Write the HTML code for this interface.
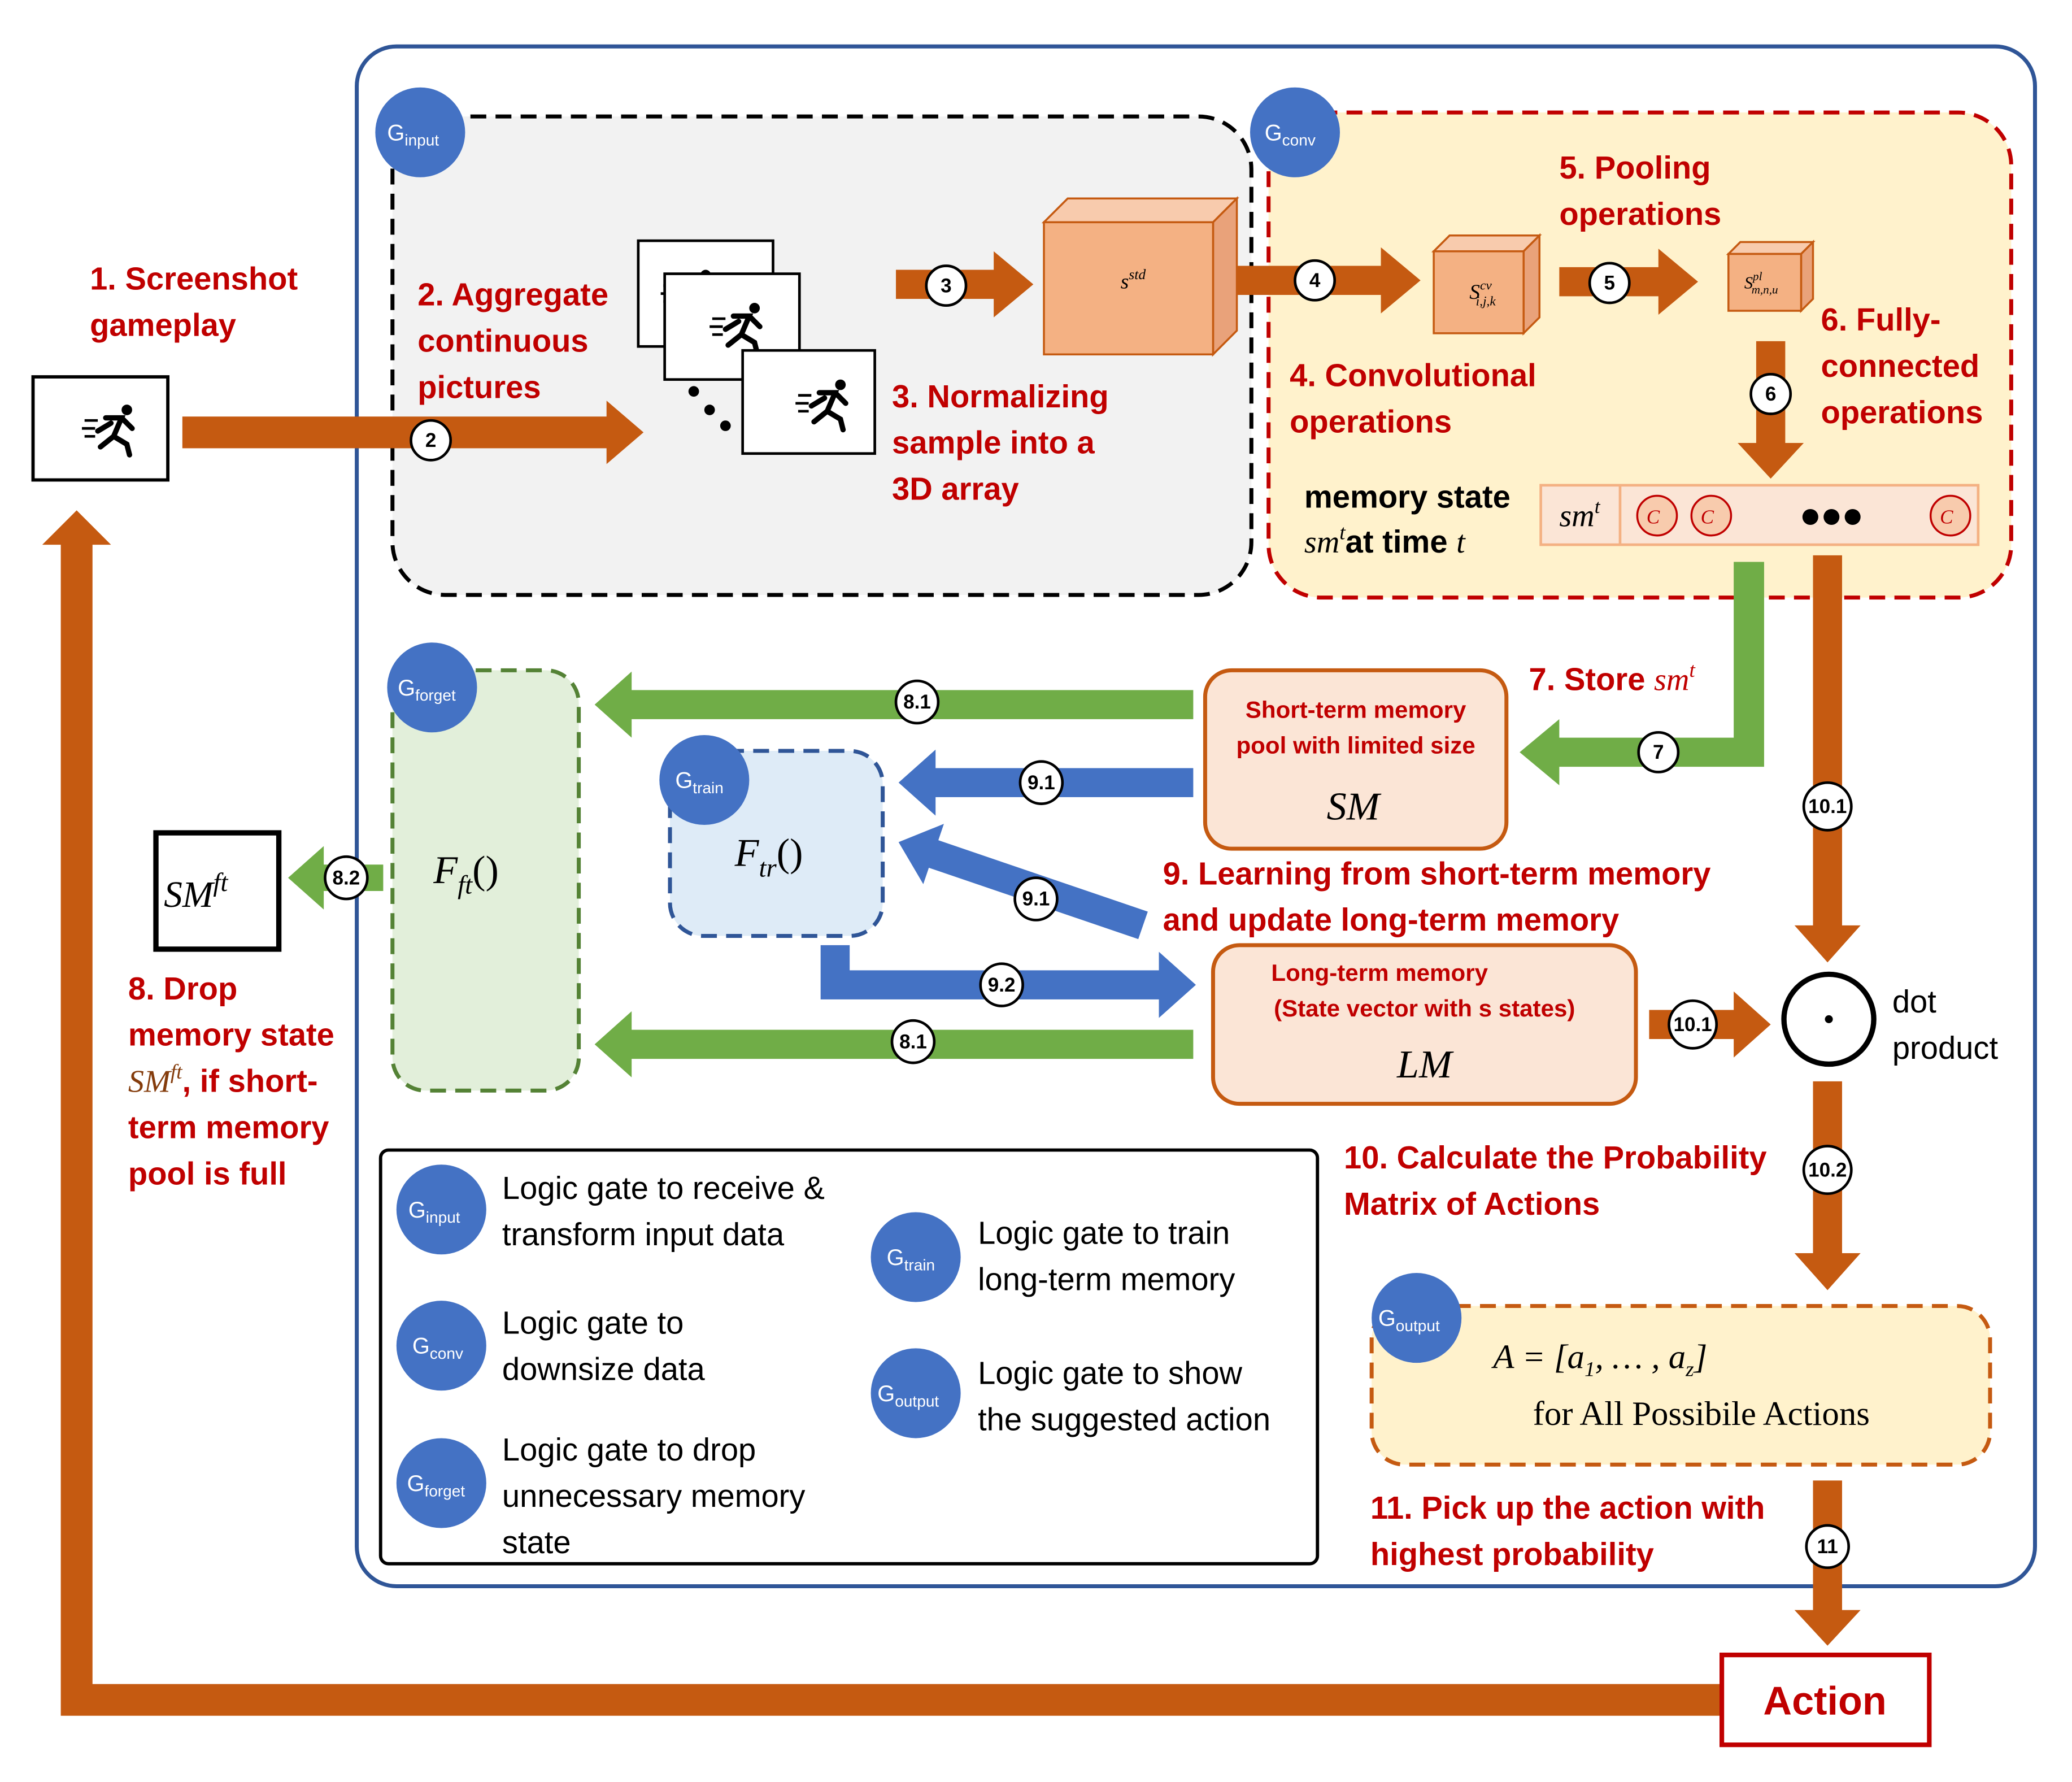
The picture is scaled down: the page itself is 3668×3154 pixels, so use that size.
<!DOCTYPE html>
<html><head><meta charset="utf-8"><style>html,body{margin:0;padding:0;background:#fff}svg{display:block}</style></head>
<body>
<svg width="3668" height="3154" viewBox="0 0 1568 1348" xmlns="http://www.w3.org/2000/svg" font-family="Liberation Sans, sans-serif">
<defs>
<g id="run"><circle cx="14" cy="-14" r="4" fill="#000"/><path d="M-2,-8 L10,-8 L4,6 L-6,14 M4,6 L14,12 L16,20 M10,-8 L18,0 M2,-4 L-8,2" stroke="#000" stroke-width="4" fill="none" stroke-linecap="round"/><path d="M-18,-6 h10 M-20,0 h10 M-18,6 h8" stroke="#000" stroke-width="2"/></g>
</defs>
<rect width="1568" height="1348" fill="#fff"/>
<rect x="270" y="35" width="1270" height="1165" rx="30" fill="none" stroke="#2f5597" stroke-width="3"/>
<rect x="297" y="88" width="650" height="362" rx="40" fill="#f2f2f2" stroke="#000" stroke-width="3" stroke-dasharray="12,7"/>
<rect x="960" y="85" width="562" height="367" rx="40" fill="#fff2cc" stroke="#c00000" stroke-width="3" stroke-dasharray="12,7"/>
<rect x="297" y="507" width="141" height="318" rx="25" fill="#e2efda" stroke="#548235" stroke-width="3" stroke-dasharray="12,7"/>
<rect x="507" y="568" width="161" height="140" rx="25" fill="#deebf7" stroke="#2f5597" stroke-width="3" stroke-dasharray="12,7"/>
<rect x="1038" y="988" width="468" height="120" rx="25" fill="#fff2cc" stroke="#c55a11" stroke-width="3" stroke-dasharray="12,7"/>
<rect x="288" y="870" width="709" height="313" rx="6" fill="#fff" stroke="#000" stroke-width="2.5"/>

<g fill="#c55a11">
<polygon points="138,315 459,315 459,303 487,327 459,351 459,339 138,339"/>
<polygon points="678,204 752,204 752,190 782,215 752,240 752,226 678,226"/>
<polygon points="932,201 1045,201 1045,187 1075,212 1045,237 1045,223 932,223"/>
<polygon points="1180,202 1255,202 1255,188 1285,213 1255,238 1255,224 1180,224"/>
<polygon points="1329,258 1351,258 1351,335 1365,335 1340,362 1315,335 1329,335"/>
<polygon points="1372,420 1394,420 1394,700 1408,700 1383,728 1358,700 1372,700"/>
<polygon points="1248,764 1312,764 1312,750 1340,775 1312,800 1312,786 1248,786"/>
<polygon points="1372,818 1394,818 1394,948 1408,948 1383,976 1358,948 1372,948"/>
<polygon points="1372,1120 1394,1120 1394,1218 1408,1218 1383,1245 1358,1218 1372,1218"/>
<polygon points="1303,1274 70,1274 70,412 84,412 58,386 32,412 46,412 46,1298 1303,1298"/>
</g>
<g fill="#70ad47">
<polygon points="1312,425 1335,425 1335,580 1180,580 1180,594 1150,569 1180,544 1180,558 1312,558"/>
<polygon points="903,522 478,522 478,508 450,533 478,558 478,544 903,544"/>
<polygon points="903,779 478,779 478,765 450,790 478,815 478,801 903,801"/>
<polygon points="290,654 245,654 245,640 218,664 245,688 245,674 290,674"/>
</g>
<g fill="#4472c4">
<polygon points="903,581 708,581 708,567 680,592 708,617 708,603 903,603"/>
<polygon points="868.6,689.6 710.1,635.6 714.3,623.2 680,637 698.7,668.8 702.9,656.4 861.4,710.4"/>
<polygon points="621,715 643,715 643,734 877,734 877,720 905,745 877,770 877,756 621,756"/>
</g>

<!-- screenshot -->
<rect x="25" y="285" width="102" height="78" fill="#fff" stroke="#000" stroke-width="2.5"/>
<use href="#run" x="82" y="324"/>
<rect x="483" y="182" width="102" height="80" fill="#fff" stroke="#000" stroke-width="2"/>
<use href="#run" x="520" y="222"/>
<rect x="503" y="207" width="102" height="80" fill="#fff" stroke="#000" stroke-width="2"/>
<use href="#run" x="557" y="247"/>
<circle cx="525" cy="296" r="4"/><circle cx="537" cy="310" r="4"/><circle cx="549" cy="322" r="4"/>
<rect x="562" y="265" width="100" height="78" fill="#fff" stroke="#000" stroke-width="2"/>
<use href="#run" x="622" y="305"/>

<!-- cubes -->
<g stroke="#c55a11" stroke-width="1.5">
<polygon points="790,168 808,150 936,150 918,168" fill="#f8cbad"/>
<polygon points="918,168 936,150 936,250 918,268" fill="#e9a27a"/>
<rect x="790" y="168" width="128" height="100" fill="#f4b183"/>
<polygon points="1085,190 1097,178 1165,178 1153,190" fill="#f8cbad"/>
<polygon points="1153,190 1165,178 1165,240 1153,252" fill="#e9a27a"/>
<rect x="1085" y="190" width="68" height="62" fill="#f4b183"/>
<polygon points="1308,192 1317,183 1372,183 1363,192" fill="#f8cbad"/>
<polygon points="1363,192 1372,183 1372,226 1363,235" fill="#e9a27a"/>
<rect x="1308" y="192" width="55" height="43" fill="#f4b183"/>
</g>
<text x="848" y="218" font-family="Liberation Serif, serif" font-style="italic" font-size="16">s<tspan font-size="11" dy="-7">std</tspan></text>
<text x="1112" y="226" font-family="Liberation Serif, serif" font-style="italic" font-size="16">S<tspan font-size="10" dy="-7">cv</tspan><tspan font-size="10" dy="12" dx="-12">i,j,k</tspan></text>
<text x="1320" y="218" font-family="Liberation Serif, serif" font-style="italic" font-size="13">S<tspan font-size="9" dy="-6">pl</tspan><tspan font-size="9" dy="10" dx="-8">m,n,u</tspan></text>

<!-- memory bar -->
<rect x="1166" y="367" width="331" height="45" fill="#fbe5d6" stroke="#f4b183" stroke-width="2"/>
<line x1="1226" y1="367" x2="1226" y2="412" stroke="#f4b183" stroke-width="2"/>
<text x="1180" y="398" font-family="Liberation Serif, serif" font-style="italic" font-size="24">sm<tspan font-size="15" dy="-10">t</tspan></text>
<g fill="#f8cbad" stroke="#c00000" stroke-width="1.5"><circle cx="1254" cy="390" r="15"/><circle cx="1295" cy="390" r="15"/><circle cx="1476" cy="390" r="15"/></g>
<g font-family="Liberation Serif, serif" font-style="italic" font-size="15" fill="#c00000"><text x="1246" y="396">C</text><text x="1287" y="396">C</text><text x="1468" y="396">C</text></g>
<circle cx="1370" cy="391" r="6"/><circle cx="1386" cy="391" r="6"/><circle cx="1402" cy="391" r="6"/>

<!-- boxes -->
<rect x="912" y="507" width="228" height="135" rx="20" fill="#fbe5d6" stroke="#c55a11" stroke-width="3"/>
<text x="1026" y="543" text-anchor="middle" font-size="18" font-weight="bold" fill="#c00000">Short-term memory</text>
<text x="1026" y="570" text-anchor="middle" font-size="18" font-weight="bold" fill="#c00000">pool with limited size</text>
<text x="1024" y="620" text-anchor="middle" font-family="Liberation Serif, serif" font-style="italic" font-size="30">SM</text>
<rect x="918" y="715" width="320" height="120" rx="20" fill="#fbe5d6" stroke="#c55a11" stroke-width="3"/>
<text x="1044" y="742" text-anchor="middle" font-size="18" font-weight="bold" fill="#c00000">Long-term memory</text>
<text x="1078" y="769" text-anchor="middle" font-size="18" font-weight="bold" fill="#c00000">(State vector with s states)</text>
<text x="1078" y="815" text-anchor="middle" font-family="Liberation Serif, serif" font-style="italic" font-size="30">LM</text>
<text x="328" y="668" font-family="Liberation Serif, serif" font-style="italic" font-size="30">F<tspan font-size="20" dy="8">ft</tspan><tspan dy="-8" font-style="normal">()</tspan></text>
<text x="556" y="655" font-family="Liberation Serif, serif" font-style="italic" font-size="30">F<tspan font-size="20" dy="8">tr</tspan><tspan dy="-8" font-style="normal">()</tspan></text>
<rect x="118" y="630" width="93" height="88" fill="#fff" stroke="#000" stroke-width="4"/>
<text x="124" y="686" font-family="Liberation Serif, serif" font-style="italic" font-size="28">SM<tspan font-size="20" dy="-12">ft</tspan></text>
<circle cx="1384" cy="771" r="34" fill="#fff" stroke="#000" stroke-width="4"/><circle cx="1384" cy="771" r="3"/>
<text x="1432" y="766" font-size="24">dot</text><text x="1432" y="801" font-size="24">product</text>
<rect x="1303" y="1252" width="157" height="68" fill="#fff" stroke="#c00000" stroke-width="3.5"/>
<text x="1381" y="1297" text-anchor="middle" font-size="30" font-weight="bold" fill="#c00000">Action</text>
<text x="1130" y="1035" font-family="Liberation Serif, serif" font-style="italic" font-size="26">A = [a<tspan font-size="16" dy="6">1</tspan><tspan dy="-6">, … , a</tspan><tspan font-size="16" dy="6">z</tspan><tspan dy="-6">]</tspan></text>
<text x="1160" y="1078" font-family="Liberation Serif, serif" font-size="26">for All Possibile Actions</text>

<!-- red labels -->
<g font-size="24" font-weight="bold" fill="#c00000">
<text x="68" y="219">1. Screenshot</text><text x="68" y="254">gameplay</text>
<text x="316" y="231">2. Aggregate</text><text x="316" y="266">continuous</text><text x="316" y="301">pictures</text>
<text x="675" y="308">3. Normalizing</text><text x="675" y="343">sample into a</text><text x="675" y="378">3D array</text>
<text x="1180" y="135">5. Pooling</text><text x="1180" y="170">operations</text>
<text x="1378" y="250">6. Fully-</text><text x="1378" y="285">connected</text><text x="1378" y="320">operations</text>
<text x="976" y="292">4. Convolutional</text><text x="976" y="327">operations</text>
<text x="1157" y="522">7. Store <tspan font-family="Liberation Serif, serif" font-style="italic" font-weight="normal">sm<tspan font-size="16" dy="-10">t</tspan></tspan></text>
<text x="880" y="669">9. Learning from short-term memory</text><text x="880" y="704">and update long-term memory</text>
<text x="97" y="756">8. Drop</text><text x="97" y="791">memory state</text>
<text x="97" y="826"><tspan fill="#843c0c" font-family="Liberation Serif, serif" font-style="italic" font-weight="normal">SM<tspan font-size="16" dy="-10">ft</tspan></tspan><tspan dy="10">, if short-</tspan></text>
<text x="97" y="861">term memory</text><text x="97" y="896">pool is full</text>
<text x="1017" y="884">10. Calculate the Probability</text><text x="1017" y="919">Matrix of Actions</text>
<text x="1037" y="1149">11. Pick up the action with</text><text x="1037" y="1184">highest probability</text>
</g>
<text x="987" y="384" font-size="24" font-weight="bold">memory state</text>
<text x="987" y="418" font-size="24" font-weight="bold"><tspan font-family="Liberation Serif, serif" font-style="italic" font-weight="normal">sm<tspan font-size="16" dy="-10">t</tspan></tspan><tspan dy="10">at time </tspan><tspan font-family="Liberation Serif, serif" font-style="italic" font-weight="normal">t</tspan></text>

<!-- legend -->
<g font-size="24">
<text x="380" y="907">Logic gate to receive &amp;</text><text x="380" y="942">transform input data</text>
<text x="380" y="1009">Logic gate to</text><text x="380" y="1044">downsize data</text>
<text x="380" y="1105">Logic gate to drop</text><text x="380" y="1140">unnecessary memory</text><text x="380" y="1175">state</text>
<text x="740" y="941">Logic gate to train</text><text x="740" y="976">long-term memory</text>
<text x="740" y="1047">Logic gate to show</text><text x="740" y="1082">the suggested action</text>
</g>

<!-- gate circles -->
<g fill="#4472c4">
<circle cx="318" cy="100" r="34"/><circle cx="980" cy="100" r="34"/><circle cx="327" cy="520" r="34"/><circle cx="533" cy="590" r="34"/><circle cx="1072" cy="997" r="34"/>
<circle cx="334" cy="915" r="34"/><circle cx="334" cy="1018" r="34"/><circle cx="334" cy="1122" r="34"/><circle cx="693" cy="951" r="34"/><circle cx="693" cy="1054" r="34"/>
</g>
<g fill="#fff" font-size="17">
<text x="293" y="106">G<tspan font-size="12" dy="4">input</tspan></text>
<text x="957" y="106">G<tspan font-size="12" dy="4">conv</tspan></text>
<text x="301" y="526">G<tspan font-size="12" dy="4">forget</tspan></text>
<text x="511" y="596">G<tspan font-size="12" dy="4">train</tspan></text>
<text x="1043" y="1003">G<tspan font-size="12" dy="4">output</tspan></text>
<text x="309" y="921">G<tspan font-size="12" dy="4">input</tspan></text>
<text x="312" y="1024">G<tspan font-size="12" dy="4">conv</tspan></text>
<text x="308" y="1128">G<tspan font-size="12" dy="4">forget</tspan></text>
<text x="671" y="957">G<tspan font-size="12" dy="4">train</tspan></text>
<text x="664" y="1060">G<tspan font-size="12" dy="4">output</tspan></text>
</g>

<!-- number circles -->
<g fill="#fff" stroke="#000" stroke-width="2">
<circle cx="326" cy="333" r="15"/><circle cx="716" cy="216" r="15"/><circle cx="995" cy="212" r="15"/><circle cx="1218" cy="214" r="15"/><circle cx="1340" cy="298" r="15"/><circle cx="1255" cy="569" r="15"/>
<circle cx="694" cy="531" r="16"/><circle cx="788" cy="592" r="16"/><circle cx="784" cy="680" r="16"/><circle cx="758" cy="745" r="16"/><circle cx="691" cy="788" r="16"/><circle cx="262" cy="664" r="16"/>
<circle cx="1383" cy="610" r="18"/><circle cx="1281" cy="775" r="18"/><circle cx="1383" cy="885" r="18"/><circle cx="1383" cy="1170" r="16"/>
</g>
<g font-size="15" font-weight="bold" text-anchor="middle">
<text x="326" y="338">2</text><text x="716" y="221">3</text><text x="995" y="217">4</text><text x="1218" y="219">5</text><text x="1340" y="303">6</text><text x="1255" y="574">7</text>
<text x="694" y="536">8.1</text><text x="788" y="597">9.1</text><text x="784" y="685">9.1</text><text x="758" y="750">9.2</text><text x="691" y="793">8.1</text><text x="262" y="669">8.2</text>
<text x="1383" y="615">10.1</text><text x="1281" y="780">10.1</text><text x="1383" y="890">10.2</text><text x="1383" y="1175">11</text>
</g>
</svg>
</body></html>
